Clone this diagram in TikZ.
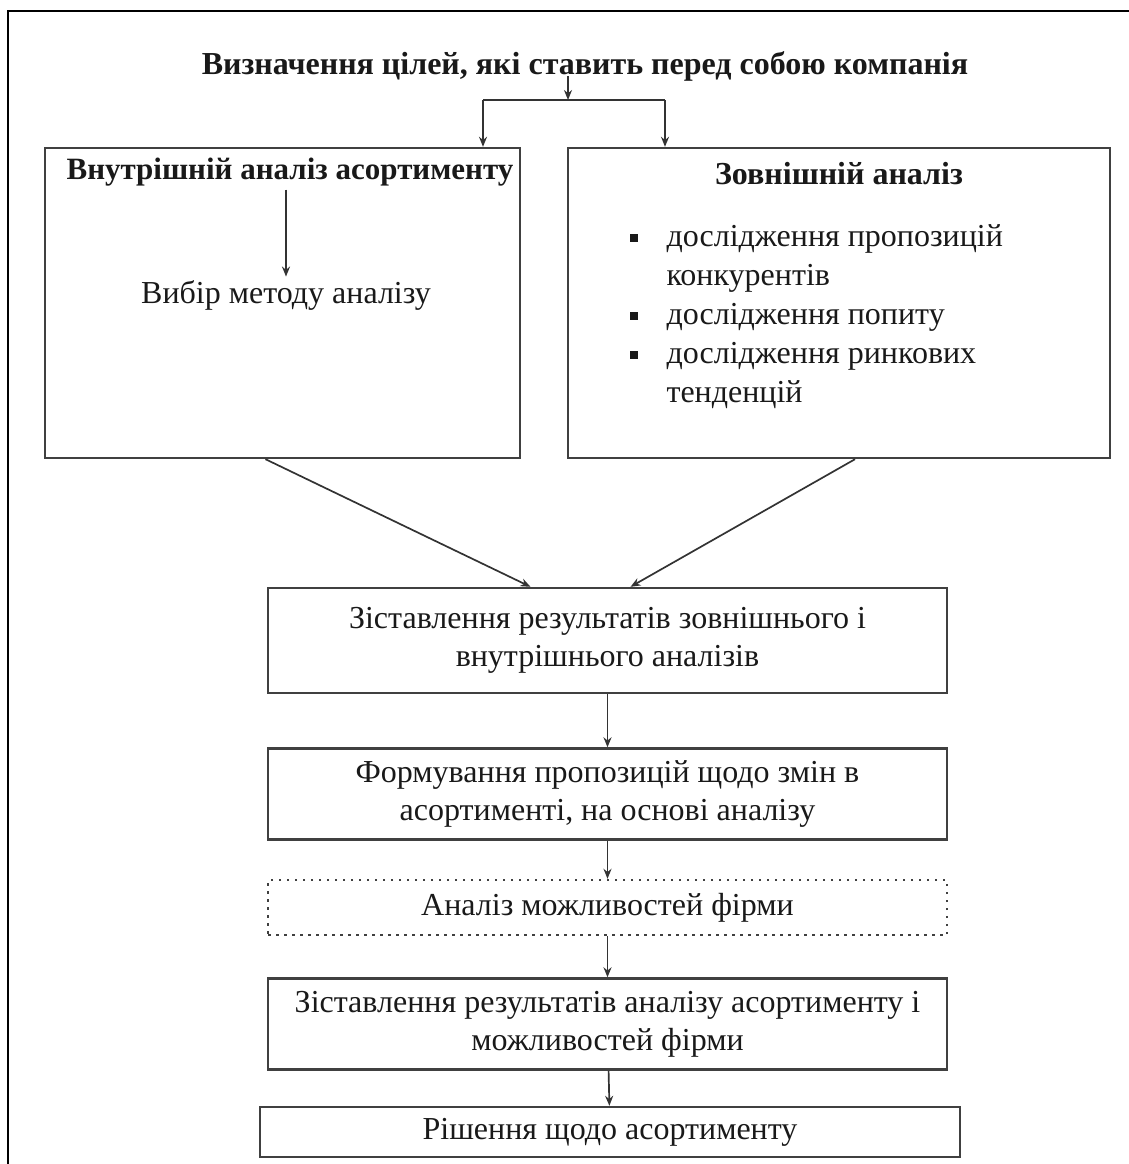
\documentclass[tikz,border=0pt]{standalone}
\usepackage{fontspec}
\setmainfont{Liberation Serif}
\usetikzlibrary{arrows.meta,positioning}

\tikzset{
  blok/.style={draw=black!75, line width=2.4pt, minimum width=679pt, minimum height=#1, align=center, inner sep=0pt},
  blok/.default=91pt,
  strilka/.style={-{Stealth[length=10pt,width=8pt]}, line width=1.7pt, draw=black!80},
  zag/.style={font=\fontsize{32}{38}\selectfont\bfseries},
}
\newcommand{\punkt}{\makebox[37pt][l]{\rule[4pt]{8pt}{8pt}}}

\begin{document}
\begin{tikzpicture}[x=1pt,y=-1pt, every node/.style={font=\fontsize{32}{38}\selectfont, text=black!90}]
        \useasboundingbox (0,0) rectangle (1129,1164);
        \draw[line width=2.5pt] (1129,11) -- (8,11) -- (8,1164);
        % goal and two analyses
        \node[zag] (goal) at (585,66) {Визначення цілей, які ставить перед собою компанія};
        \coordinate (split) at (568,100);
        \coordinate (splitL) at (483,100);
        \coordinate (splitR) at (665,100);
        \node[blok, minimum width=475pt, minimum height=310pt] (inner) at (282.5,303) {};
        \node[zag, font=\fontsize{31}{38}\selectfont\bfseries] (innertitle) at (290,172) {Внутрішній аналіз асортименту};
        \node (method) at (286,295) {Вибір методу аналізу};
        \node[blok, minimum width=542pt, minimum height=310pt] (outer) at (839,303) {};
        \node[zag] (outertitle) at (839,174) {Зовнішній аналіз};
        \node[anchor=north west, align=left, font=\fontsize{32}{39}\selectfont] (list) at (626,221)
            {\punkt дослідження пропозицій\\ \hspace*{37pt}конкурентів\\ \punkt дослідження попиту\\ \punkt дослідження ринкових\\ \hspace*{37pt}тенденцій};
        \draw[strilka] ([yshift=8pt]goal.south -| split) -- (split);
        \draw[line width=1.7pt, black!80] (splitL) -- (splitR);
        \draw[strilka] (splitL) -- (splitL |- inner.north);
        \draw[strilka] (splitR) -- (splitR |- outer.north);
        \draw[strilka] (innertitle.south -| method) -- (method.north);
        % main chain
        \node[blok=105pt] (compare) at (607.5,640.5) {Зіставлення результатів зовнішнього і\\внутрішнього аналізів};
        \node[blok] (propose) at (607.5,794) {Формування пропозицій щодо змін в\\асортименті, на основі аналізу};
        \node[blok=55pt, dash pattern=on 2.5pt off 5.5pt] (firm) at (607.5,907.5) {Аналіз можливостей фірми};
        \node[blok] (match) at (607.5,1024) {Зіставлення результатів аналізу асортименту і\\можливостей фірми};
        \node[blok=50pt, minimum width=700pt] (decision) at (610,1132) {Рішення щодо асортименту};
        \draw[strilka] ([xshift=-17pt]inner.south) -- ([xshift=-77pt]compare.north);
        \draw[strilka] ([xshift=16pt]outer.south) -- ([xshift=23pt]compare.north);
        \draw[strilka] (compare) -- (propose);
        \draw[strilka] (propose) -- (firm);
        \draw[strilka] (firm) -- (match);
        \draw[strilka] (match) -- (decision);
    \end{tikzpicture}
\end{document}
